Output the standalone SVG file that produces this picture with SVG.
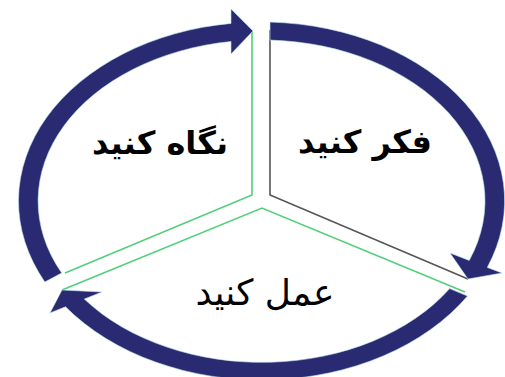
<svg xmlns="http://www.w3.org/2000/svg" width="505" height="377" viewBox="0 0 505 377">
<style>
.arrow{fill:#2A2A72;stroke:#bfe6ee;stroke-width:0.6}
.green{fill:none;stroke:#52cf7a;stroke-width:1.6}
.gray{fill:none;stroke:#555;stroke-width:1.6}
.lbl{font-family:"DejaVu Sans",sans-serif;fill:#000;text-anchor:middle}
.b{font-size:32px;font-weight:bold}
.r{font-size:36px}
</style>
<rect width="505" height="377" fill="#fff"/>
<g id="connectors">
<polyline id="line-left" class="green" points="252,31 252,195 65,273"/>
<polyline id="line-right" class="gray" points="270,30 270,195 468,279"/>
<polyline id="line-bottom" class="green" points="62,290 262,208 465,292"/>
</g>
<g id="node-look">
<path class="arrow" d="M44.8 282 A243 179 0 0 1 231 23.4 L231 9 L253 31 L231 54 L231 41.5 A223.5 161 0 0 0 61.7 273 Z"/>
<text class="lbl b" x="160" y="154">نگاه کنید</text>
</g>
<g id="node-think">
<path class="arrow" d="M270 22.1 A243 179 0 0 1 487.3 267.4 L502 273 L468 279 L450 253 L469.2 260.4 A223.5 161 0 0 0 270 40.1 Z"/>
<text class="lbl b" x="365" y="153">فکر کنید</text>
</g>
<g id="node-act">
<path class="arrow" d="M467.5 296 A243 179 0 0 1 65.5 306.8 L50 313 L62 290 L102 292 L84.3 299.1 A223.5 161 0 0 0 449.7 288.6 Z"/>
<text class="lbl r" x="265" y="305">عمل کنید</text>
</g>
</svg>
